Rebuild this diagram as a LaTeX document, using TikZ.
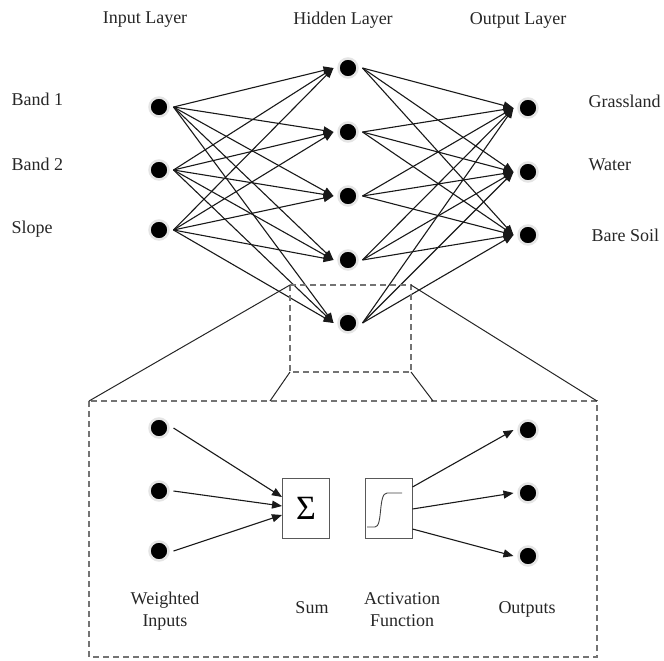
\documentclass[tikz,border=0pt]{standalone}
\usepackage{fontspec}
\setmainfont{Liberation Serif}
\usetikzlibrary{arrows.meta}

\tikzset{
  neuron/.style={circle,fill=black,draw=black!10,line width=2.5pt,minimum size=19pt,inner sep=0pt,outer sep=5pt},
  conn/.style={draw=black!90,line width=1.1pt,-{Triangle[length=10pt,width=8pt]}},
  wire/.style={draw=black!85,line width=1pt},
  zoombox/.style={draw=black!55,line width=1.1pt,dash pattern=on 6pt off 4pt},
  unit/.style={draw=black!65,line width=1pt,minimum width=47pt,minimum height=60pt,inner sep=0pt},
  txt/.style={font=\fontsize{18}{22}\selectfont,align=center,text=black!85},
}

\begin{document}
\begin{tikzpicture}[x=1pt,y=-1pt]
\useasboundingbox (0,0) rectangle (664,661);

\node[txt] (tin) at (145,20) {Input Layer};
\node[txt] (thid) at (343,20) {Hidden Layer};
\node[txt] (tout) at (518,20) {Output Layer};

\foreach \n/\y in {1/107,2/170,3/230} \node[neuron] (i\n) at (159,\y) {};
\foreach \n/\y in {1/68,2/132,3/196,4/260,5/323} \node[neuron] (h\n) at (348,\y) {};
\foreach \n/\y in {1/108,2/172,3/235} \node[neuron] (o\n) at (528,\y) {};

\node[txt,anchor=west] (lb1) at (8,99) {Band 1};
\node[txt,anchor=west] (lb2) at (8,164) {Band 2};
\node[txt,anchor=west] (lb3) at (8,229) {Slope};
\node[txt,anchor=west] (lo1) at (585,101) {Grassland};
\node[txt,anchor=west] (lo2) at (585,165) {Water};
\node[txt,anchor=west] (lo3) at (588,235) {Bare Soil};

\foreach \i in {1,2,3}
  \foreach \h in {1,...,5}
    \draw[conn] (i\i.east) -- (h\h.west);
\foreach \h in {1,...,5}
  \foreach \o in {1,2,3}
    \draw[conn] (h\h.east) -- (o\o.west);

% zoom on one hidden unit
\coordinate (s1) at (290,285);
\coordinate (s2) at (411,285);
\coordinate (s3) at (411,372);
\coordinate (s4) at (290,372);
\coordinate (b1) at (89,401);
\coordinate (b2) at (597,401);
\coordinate (b3) at (433,401);
\coordinate (b4) at (270,401);
\draw[zoombox] (s1) rectangle (s3);
\draw[zoombox] (b1) rectangle (597,657);
\draw[wire] (s1) -- (b1);
\draw[wire] (s2) -- (b2);
\draw[wire] (s3) -- (b3);
\draw[wire] (s4) -- (b4);

\foreach \n/\y in {1/428,2/491,3/551} \node[neuron] (w\n) at (159,\y) {};
\foreach \n/\y in {1/430,2/493,3/556} \node[neuron] (r\n) at (528,\y) {};

\node[unit] (sum) at (306,508) {\fontsize{34}{34}\selectfont Σ};
\node[unit] (act) at (388.5,508) {};
\draw[black!75,line width=0.9pt] (367,527) -- (375,527) .. controls (383,527) and (378,493) .. (387,493) -- (402,493);

\draw[conn] (w1.east) -- ([yshift=11pt]sum.west);
\draw[conn] (w2.east) -- ([yshift=2pt]sum.west);
\draw[conn] (w3.east) -- ([yshift=-7pt]sum.west);
\draw[conn] ([yshift=21pt]act.east) -- (r1.west);
\draw[conn] ([yshift=-1pt]act.east) -- (r2.west);
\draw[conn] ([yshift=-21pt]act.east) -- (r3.west);

\node[txt] (lw) at (165,611) {Weighted\\Inputs};
\node[txt] (ls) at (312,608) {Sum};
\node[txt] (la) at (402,610) {Activation\\Function};
\node[txt] (lr) at (527,609) {Outputs};
\end{tikzpicture}
\end{document}
